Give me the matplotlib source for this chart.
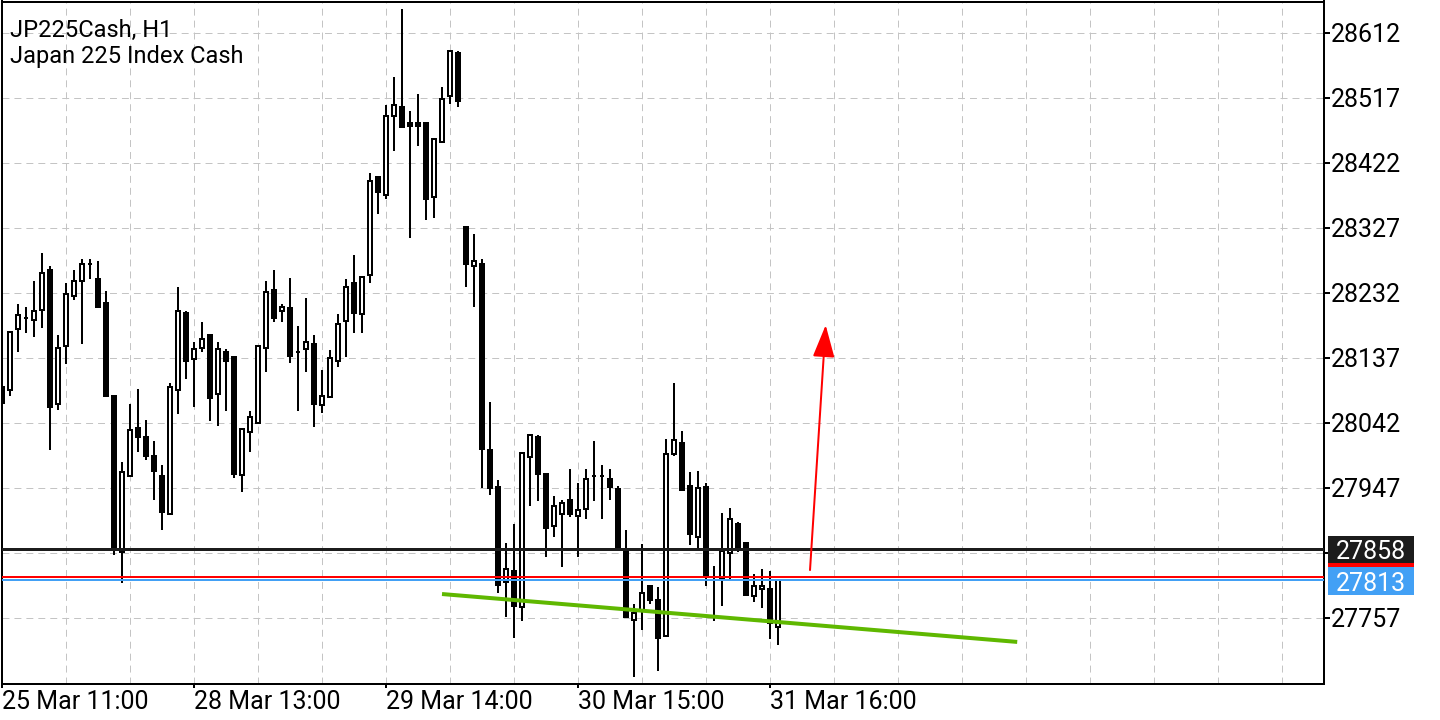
import matplotlib
matplotlib.use("Agg")
import matplotlib.pyplot as plt
import numpy as np
from matplotlib.patches import Rectangle, FancyArrowPatch
from matplotlib.transforms import blended_transform_factory

# ---------------- data ----------------
title_line1 = "JP225Cash, H1"
title_line2 = "Japan 225 Index Cash"

open_ = [28095, 28090, 28179, 28196, 28192, 28207, 28266, 28069, 28155, 28228,
         28250, 28274, 28253, 28218, 28081, 27854, 27964, 28034, 28021, 27994,
         27965, 27909, 28090, 28203, 28135, 28151, 28170, 28084, 28145, 28138,
         27966, 28029, 28042, 28151, 28237, 28206, 28210, 28145, 28150, 28158,
         28068, 28080, 28133, 28191, 28246, 28201, 28258, 28402, 28375, 28490,
         28504, 28481, 28481, 28480, 28372, 28453, 28520, 28583, 28328, 28271,
         28275, 28003, 27949, 27809, 27825, 27773, 27992, 28021, 27967, 27891,
         27909, 27929, 27906, 27916, 27965, 27964, 27960, 27945, 27857, 27754,
         27768, 27803, 27783, 27730, 27996, 28012, 27950, 27876, 27948, 27812,
         27814, 27852, 27895, 27866, 27789, 27799, 27800, 27744]
high = [28098, 28175, 28216, 28211, 28249, 28291, 28271, 28171, 28247, 28266,
        28282, 28282, 28278, 28235, 28081, 27985, 28070, 28091, 28046, 28016,
        27981, 28101, 28240, 28205, 28160, 28190, 28170, 28160, 28150, 28140,
        28033, 28060, 28155, 28250, 28266, 28216, 28254, 28184, 28225, 28171,
        28120, 28149, 28201, 28252, 28288, 28256, 28407, 28403, 28507, 28547,
        28647, 28498, 28523, 28480, 28457, 28533, 28585, 28586, 28328, 28318,
        28281, 28072, 27959, 27866, 27894, 27998, 28025, 28025, 27967, 27935,
        27929, 27974, 27954, 27974, 28016, 27981, 27974, 27950, 27886, 27777,
        27865, 27805, 27802, 28019, 28100, 28030, 27970, 27972, 27954, 27833,
        27910, 27917, 27897, 27866, 27821, 27828, 27826, 27813]
low = [28068, 28082, 28146, 28174, 28167, 28181, 28002, 28061, 28128, 28222,
       28157, 28252, 28210, 28082, 27849, 27808, 27963, 27999, 27988, 27930,
       27886, 27909, 28055, 28106, 28066, 28146, 28045, 28038, 28060, 27961,
       27941, 28000, 28041, 28116, 28190, 28189, 28129, 28060, 28117, 28036,
       28057, 28080, 28124, 28139, 28173, 28173, 28247, 28348, 28370, 28439,
       28474, 28313, 28447, 28338, 28342, 28453, 28508, 28504, 28241, 28212,
       27947, 27936, 27793, 27758, 27727, 27752, 27921, 27928, 27846, 27876,
       27831, 27905, 27846, 27901, 27928, 27901, 27929, 27859, 27758, 27670,
       27740, 27778, 27680, 27730, 27993, 27943, 27864, 27859, 27804, 27752,
       27774, 27812, 27854, 27791, 27781, 27772, 27726, 27717]
close = [28071, 28175, 28200, 28196, 28205, 28261, 28065, 28151, 28230, 28249,
         28274, 28274, 28211, 28082, 27857, 27970, 28031, 28021, 27993, 27972,
         27912, 28094, 28205, 28133, 28150, 28164, 28078, 28150, 28133, 27968,
         28033, 28050, 28154, 28234, 28196, 28212, 28140, 28145, 28161, 28069,
         28082, 28137, 28186, 28241, 28202, 28256, 28396, 28379, 28491, 28506,
         28475, 28476, 28476, 28370, 28457, 28516, 28585, 28512, 28274, 28278,
         28004, 27947, 27805, 27828, 27774, 27998, 28025, 27968, 27888, 27921,
         27925, 27909, 27915, 27960, 27965, 27964, 27948, 27861, 27758, 27764,
         27794, 27783, 27727, 27996, 28017, 27944, 27880, 27947, 27820, 27812,
         27855, 27901, 27856, 27791, 27804, 27804, 27749, 27813]

date_labels = ["25 Mar 11:00", "28 Mar 13:00", "29 Mar 14:00", "30 Mar 15:00", "31 Mar 16:00"]
date_label_bars = [0, 24, 48, 72, 96]

price_levels = [28612, 28517, 28422, 28327, 28232, 28137, 28042, 27947, 27852, 27757]
hidden_level = 27852

last_price_line = 27858   # black horizontal line
ask_price = 27817         # red line
bid_price = 27813         # blue line

trend_x = [55, 126.9]
trend_y = [27792, 27722]

arrow_start = (101.0, 27827)
arrow_end = (102.96, 28185)

# ---------------- figure ----------------
plt.rcParams['font.family'] = ['Roboto', 'DejaVu Sans']
plt.rcParams['lines.scale_dashes'] = False

W, H = 1440, 720
fig = plt.figure(figsize=(W / 100, H / 100), dpi=100)
fig.patch.set_facecolor('white')
ax_left, ax_right, ax_top, ax_bottom = 1.5, 1323.7, 1.5, 684.0
ax = fig.add_axes([ax_left / W, 1 - ax_bottom / H,
                   (ax_right - ax_left) / W, (ax_bottom - ax_top) / H])

ax.set_xlim(-0.0625, 165.21)
ax.set_ylim(27660.5, 28658.0)

px = 0.72  # points per pixel
lw2 = 2 * px

x = np.arange(len(open_))
o = np.array(open_); c = np.array(close); h = np.array(high); l = np.array(low)

# wicks
ax.vlines(x, l, h, color='black', lw=lw2, zorder=3)
# bodies
bull = c >= o
ax.bar(x[bull], (c - o)[bull], bottom=o[bull], width=0.5, facecolor='white',
       edgecolor='black', linewidth=lw2, zorder=4)
ax.bar(x[~bull], (o - c)[~bull], bottom=c[~bull], width=0.5, facecolor='black',
       edgecolor='black', linewidth=lw2, zorder=4)

# horizontal price lines
ax.axhline(last_price_line, color='#1c1c1c', lw=3 * px, zorder=5)
ax.axhline(ask_price, color='#ff0000', lw=2 * px, zorder=5)
ax.axhline(bid_price, color='#42a0f5', lw=2 * px, zorder=5)

# trend line
ax.plot(trend_x, trend_y, color='#5fb800', lw=4 * px, solid_capstyle='butt', zorder=6)

# red arrow
arr = FancyArrowPatch(arrow_start, arrow_end, arrowstyle='-|>,head_length=20,head_width=6.8',
                      mutation_scale=1, color='#ff0000', lw=2 * px, shrinkA=0, shrinkB=0,
                      zorder=7)
ax.add_patch(arr)

# grid / ticks
ax.set_yticks(price_levels)
ax.set_yticklabels(['' if v == hidden_level else str(v) for v in price_levels])
ax.yaxis.tick_right()
ax.set_xticks(date_label_bars)
ax.set_xticklabels(date_labels)
for lbl in ax.get_xticklabels():
    lbl.set_horizontalalignment('left')
ax.set_xticks(np.arange(0, 166, 8), minor=True)
ax.grid(which='both', color='#c4c4c4', lw=1 * px, linestyle=(0, (5.0, 3.6)), zorder=0)
ax.set_axisbelow(True)
ax.tick_params(axis='y', which='major', direction='out', length=4.3, width=lw2, pad=1,
               labelsize=18, colors='black')
ax.tick_params(axis='x', which='major', direction='out', length=3, width=lw2, pad=1,
               labelsize=18)
ax.tick_params(axis='x', which='minor', length=0)
for s in ax.spines.values():
    s.set_linewidth(lw2)
    s.set_color('black')

# price labels on the right
trans = blended_transform_factory(fig.transFigure, ax.transData)
box_x0, box_w = 1328 / W, 86 / W
for price, col, half in [(ask_price, '#ff0000', 20.7), (bid_price, '#42a0f5', 20.7),
                         (last_price_line, '#1c1c1c', 19.7)]:
    ctr = price - 2 if price == bid_price else price - 1
    fig.add_artist(Rectangle((box_x0, ctr - half), box_w, 2 * half, transform=trans,
                             facecolor=col, edgecolor='none', clip_on=False, zorder=10))
for price, ctr in [(bid_price, bid_price - 2), (last_price_line, last_price_line - 1)]:
    fig.text(box_x0 + box_w / 2, ctr, str(price), transform=trans, color='white',
             fontsize=18, ha='center', va='center_baseline', zorder=11)

# title
fig.text(10 / W, 1 - 36.5 / H, title_line1, fontsize=17, ha='left', va='baseline')
fig.text(10 / W, 1 - 63.5 / H, title_line2, fontsize=17, ha='left', va='baseline')

fig.savefig('out.png', dpi=100)
